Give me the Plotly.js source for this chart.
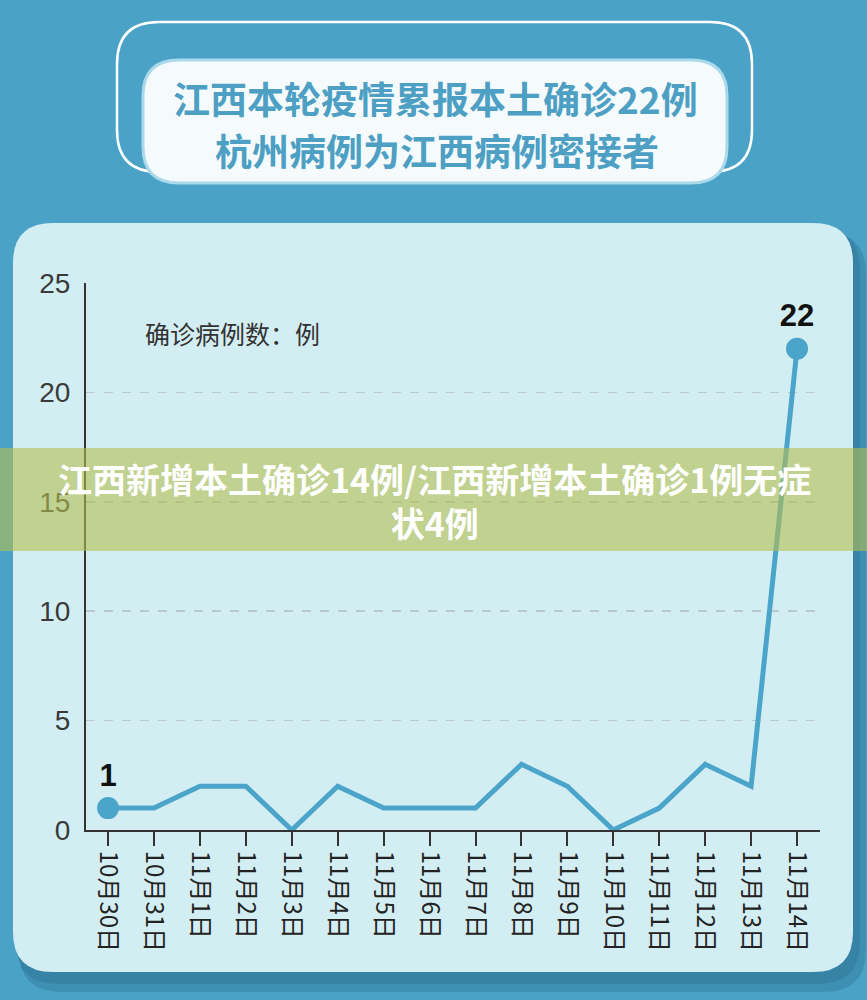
<!DOCTYPE html>
<html>
<head>
<meta charset="utf-8">
<script src="https://cdn.plot.ly/plotly-3.0.1.min.js"></script>
<style>
html,body{margin:0;padding:0;background:#4aa3c7;}
#chart{width:867px;height:1000px;}
</style>
</head>
<body>
<div id="chart"></div>
<script>
// ---- data ----
const dates = ["10月30日","10月31日","11月1日","11月2日","11月3日","11月4日","11月5日","11月6日","11月7日","11月8日","11月9日","11月10日","11月11日","11月12日","11月13日","11月14日"];
const cases = [1,1,2,2,0,2,1,1,1,3,2,0,1,3,2,22];
const yTicks = [0,5,10,15,20,25];
const titleLines = ["江西本轮疫情累报本土确诊22例","杭州病例为江西病例密接者"];
const bannerText = "江西新增本土确诊14例/江西新增本土确诊1例无症<br>状4例";
const unitLabel = "确诊病例数：例";

// ---- layout geometry ----
const W = 867, H = 1000;
const M = {l:86, r:47, t:283, b:170};
const PW = W - M.l - M.r, PH = H - M.t - M.b;
const X = px => (px - M.l) / PW;
const Y = py => (H - M.b - py) / PH;

function rr(x0,y0,x1,y1,r){
  const f = (a,b)=> X(a).toFixed(5)+','+Y(b).toFixed(5);
  return `M ${f(x0+r,y0)} L ${f(x1-r,y0)} Q ${f(x1,y0)} ${f(x1,y0+r)} L ${f(x1,y1-r)} Q ${f(x1,y1)} ${f(x1-r,y1)} L ${f(x0+r,y1)} Q ${f(x0,y1)} ${f(x0,y1-r)} L ${f(x0,y0+r)} Q ${f(x0,y0)} ${f(x0+r,y0)} Z`;
}

const lineColor = "#4ba4c9";
const idx = dates.map((d,i)=>i);

const traces = [
  {
    x: idx, y: cases, type: "scatter", mode: "lines",
    line: {color: lineColor, width: 5},
    hoverinfo: "skip", cliponaxis: false
  },
  {
    x: [idx[0], idx[idx.length-1]],
    y: [cases[0], cases[cases.length-1]],
    type: "scatter", mode: "markers+text",
    marker: {color: lineColor, size: 22},
    text: [String(cases[0]), String(cases[cases.length-1])],
    textposition: "top center",
    textfont: {family: "Liberation Sans, Arial", size: 31, color: "#111", weight: "bold"},
    hoverinfo: "skip", cliponaxis: false
  }
];

const shapes = [
  // panel shadow
  {type:"path", xref:"paper", yref:"paper", layer:"below", path: rr(19,232,866,992,42), fillcolor:"rgba(40,110,140,0.35)", line:{width:0}},
  {type:"path", xref:"paper", yref:"paper", layer:"below", path: rr(16,228,860,984,42), fillcolor:"rgba(40,110,140,0.35)", line:{width:0}},
  // panel
  {type:"path", xref:"paper", yref:"paper", layer:"below", path: rr(13,223,853,972,40), fillcolor:"#d3eef3", line:{width:0}},
  // title outline box
  {type:"path", xref:"paper", yref:"paper", layer:"below", path: rr(117,22,752,172,42), fillcolor:"rgba(0,0,0,0)", line:{color:"#ffffff", width:2.5}},
  // title filled box
  {type:"path", xref:"paper", yref:"paper", layer:"below", path: rr(143,60,727,183,36), fillcolor:"#f5fbfd", line:{color:"#a9d9ea", width:3}},
  // banner
  {type:"rect", xref:"paper", yref:"paper", layer:"above", x0: X(0), x1: X(867), y0: Y(551), y1: Y(448), fillcolor:"rgba(180,190,78,0.6)", line:{width:0}}
];

const annotations = [
  {xref:"paper", yref:"paper", x: X(435), y: Y(98), text: titleLines[0], showarrow:false, xanchor:"center", yanchor:"middle",
   font:{family:"Noto Sans CJK SC", size:37, color:"#4d9fc3", weight:"bold"}},
  {xref:"paper", yref:"paper", x: X(437), y: Y(150), text: titleLines[1], showarrow:false, xanchor:"center", yanchor:"middle",
   font:{family:"Noto Sans CJK SC", size:37, color:"#4d9fc3", weight:"bold"}},
  {xref:"paper", yref:"paper", x: X(143), y: Y(333), text: unitLabel, showarrow:false, xanchor:"left", yanchor:"middle",
   font:{family:"Noto Sans CJK SC", size:25, color:"#333333"}},
  {xref:"paper", yref:"paper", x: X(434), y: Y(500), text: bannerText, showarrow:false, xanchor:"center", yanchor:"middle",
   font:{family:"Noto Sans CJK SC", size:34, color:"#ffffff", weight:"bold"}}
];

const layout = {
  width: W, height: H,
  margin: M,
  paper_bgcolor: "#4aa3c7",
  plot_bgcolor: "rgba(0,0,0,0)",
  showlegend: false,
  xaxis: {
    range: [-0.48, 15.5],
    tickvals: idx, ticktext: dates, tickangle: 90,
    tickfont: {family: "Noto Sans CJK SC", size: 24, color: "#222"},
    ticks: "outside", ticklen: 14, tickwidth: 2, tickcolor: "#333",
    showline: true, linecolor: "#333", linewidth: 2,
    showgrid: false, zeroline: false, fixedrange: true
  },
  yaxis: {
    range: [0, 25],
    tickvals: yTicks,
    tickfont: {family: "Liberation Sans, Arial", size: 28, color: "#3a3a3a"},
    ticks: "", ticklabelstandoff: 8,
    showline: true, linecolor: "#333", linewidth: 2,
    showgrid: true, gridcolor: "#b9c9cd", gridwidth: 1.5, griddash: "dash",
    zeroline: false, fixedrange: true
  },
  shapes: shapes,
  annotations: annotations
};

Plotly.newPlot("chart", traces, layout, {displayModeBar: false, staticPlot: true});
</script>
</body>
</html>
